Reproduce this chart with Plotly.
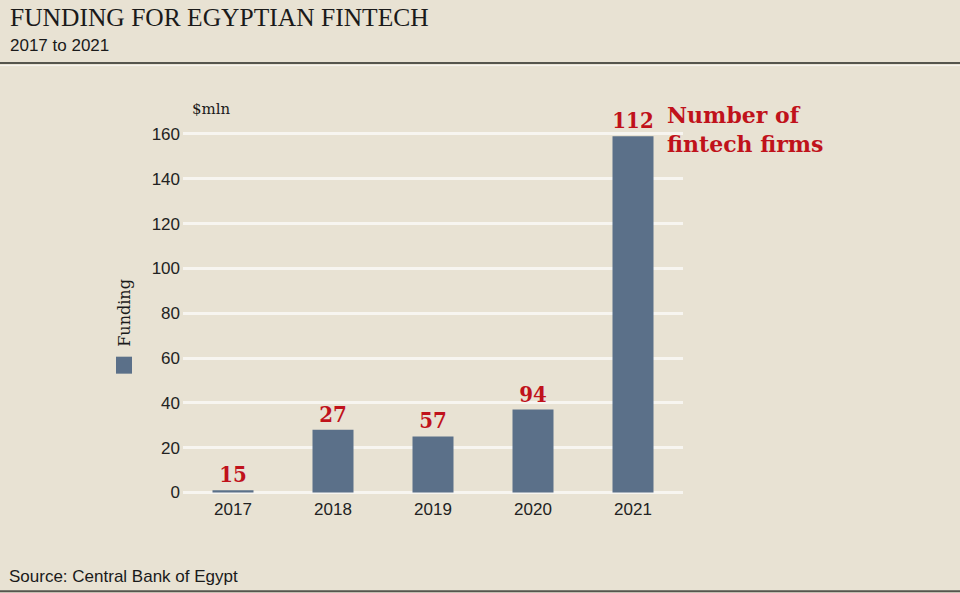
import plotly.graph_objs as go

# chart data
years = ["2017", "2018", "2019", "2020", "2021"]
funding = [1, 28, 25, 37, 159]          # $mln
firms = [15, 27, 57, 94, 112]           # number of fintech firms
y_ticks = [0, 20, 40, 60, 80, 100, 120, 140, 160]

BG = "#e8e2d3"
BAR = "#5b7089"
RED = "#c0121b"
SERIF_BOLD = "DejaVu Serif Condensed, DejaVu Serif"

# plot area in pixels (for placing the outside bits)
L, R, T, B = 183, 683, 125, 497.5


def px(x):
    return (x - L) / (R - L)


def py(y):
    return (B - y) / (B - T)


fig = go.Figure()
fig.add_trace(go.Bar(
    x=years, y=funding, marker=dict(color=BAR, line=dict(width=0)),
    text=[str(v) for v in firms], textposition="outside",
    textfont=dict(family=SERIF_BOLD, size=22, color=RED, weight="bold"),
    cliponaxis=False, constraintext="none", showlegend=False,
))

fig.update_layout(
    width=960, height=593,
    paper_bgcolor=BG, plot_bgcolor=BG,
    margin=dict(l=L, r=960 - R, t=T, b=593 - B),
    bargap=0.59,
    font=dict(family="Liberation Sans, Arial", size=17, color="#222"),
    xaxis=dict(range=[-0.5, 4.5], showgrid=False, zeroline=False, showline=False,
               ticks="", tickfont=dict(size=17)),
    yaxis=dict(range=[-2, 164], tickvals=y_ticks, showgrid=True, gridcolor="#f7f5f0",
               gridwidth=2.5, zeroline=False, showline=False, ticks="",
               tickfont=dict(size=17), ticklabelstandoff=2),
)

annots = [
    dict(text="FUNDING FOR EGYPTIAN FINTECH", x=px(8), y=py(34), xanchor="left", yanchor="bottom",
         font=dict(family="Liberation Serif, Times New Roman", size=25.5, color="#1a1a1a")),
    dict(text="2017 to 2021", x=px(8), y=py(57), xanchor="left", yanchor="bottom",
         font=dict(family="Liberation Sans, Arial", size=17, color="#1a1a1a")),
    dict(text="Source: Central Bank of Egypt", x=px(7), y=py(589), xanchor="left", yanchor="bottom",
         font=dict(family="Liberation Sans, Arial", size=17, color="#1a1a1a")),
    dict(text="$mln", x=px(190), y=py(120), xanchor="left", yanchor="bottom",
         font=dict(family="DejaVu Serif", size=15, color="#1a1a1a")),
    dict(text="Number of<br>fintech firms", x=px(665), y=py(129.5), xanchor="left", yanchor="middle",
         align="left", font=dict(family="DejaVu Serif", size=22, color=RED, weight="bold")),
    dict(text="Funding", x=px(125), y=py(313), xanchor="center", yanchor="middle", textangle=-90,
         font=dict(family="DejaVu Serif", size=16, color="#1a1a1a")),
]
for a in annots:
    a.update(xref="paper", yref="paper", showarrow=False)
    fig.add_annotation(**a)

# rules and legend swatch
fig.add_shape(type="line", xref="paper", yref="paper", x0=px(0), x1=px(960), y0=py(63), y1=py(63),
              line=dict(color="#55554d", width=2))
fig.add_shape(type="line", xref="paper", yref="paper", x0=px(0), x1=px(960), y0=py(65.5), y1=py(65.5),
              line=dict(color="#f7f5f0", width=1))
fig.add_shape(type="line", xref="paper", yref="paper", x0=px(0), x1=px(960), y0=py(592), y1=py(592),
              line=dict(color="#55554d", width=2))
fig.add_shape(type="rect", xref="paper", yref="paper", x0=px(116), x1=px(132), y0=py(374), y1=py(357),
              fillcolor=BAR, line=dict(width=0))

# drop the page's default body margin so the figure sits at the window's corner
fig.write_html("out.html", config={"displayModeBar": False},
               post_script="document.body.style.margin='0';")
